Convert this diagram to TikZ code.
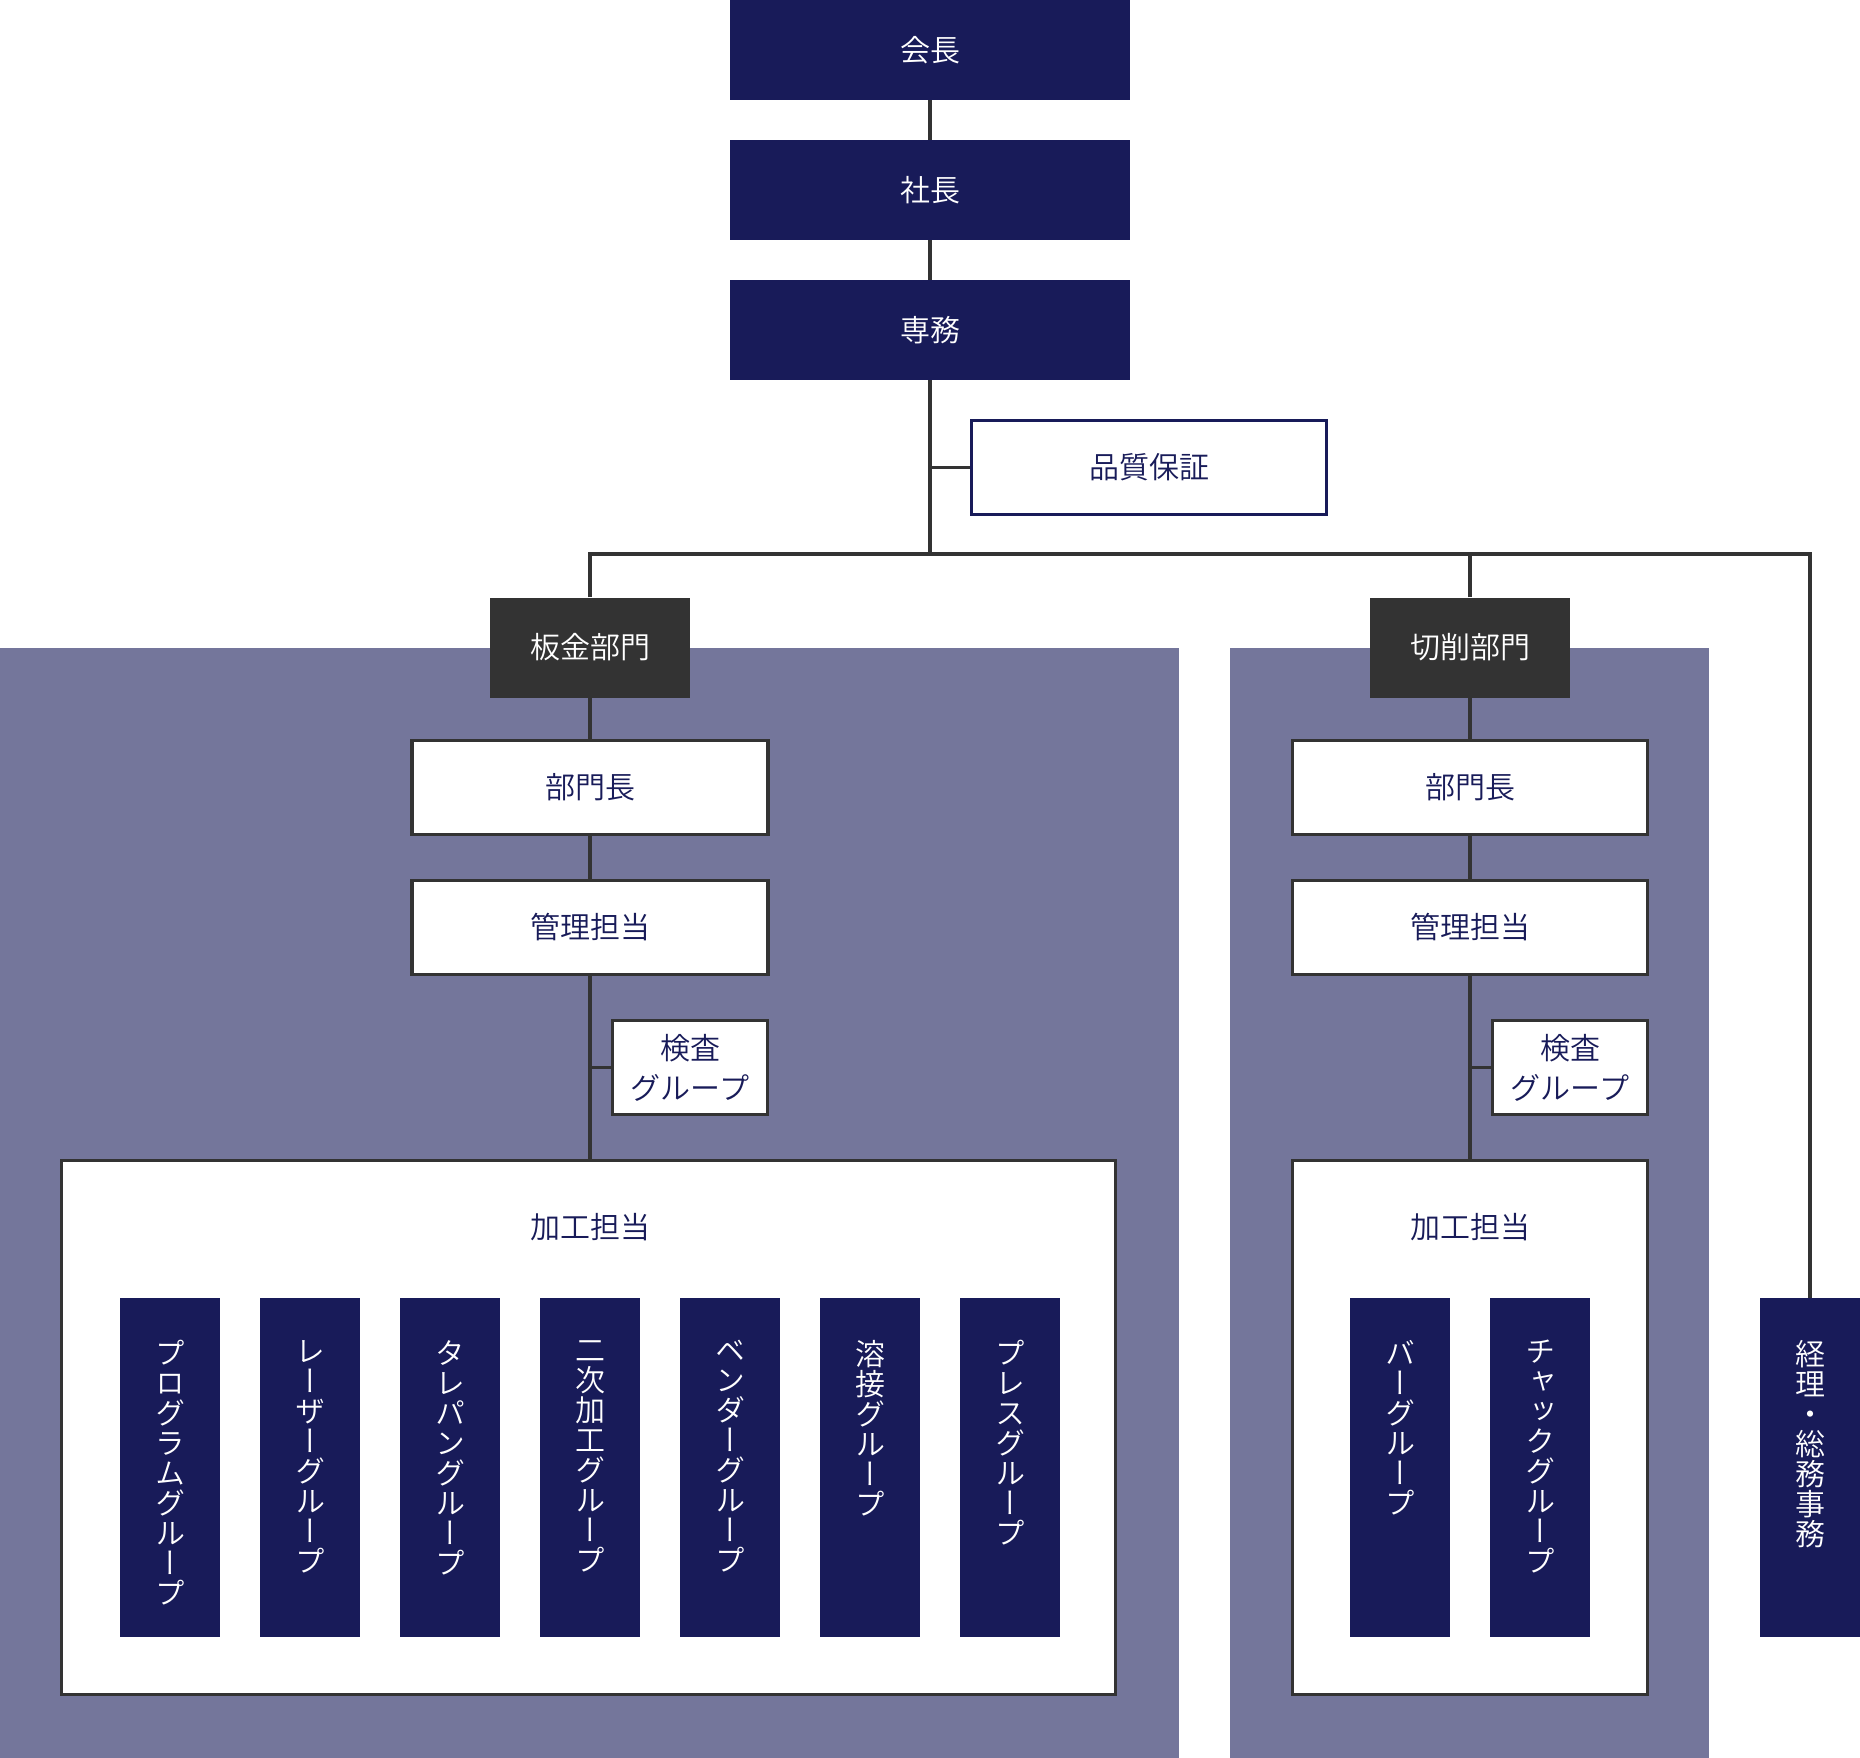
\documentclass[tikz,border=0pt]{standalone}
\usepackage{fontspec}
\setmainfont{Noto Sans CJK JP DemiLight}
\newfontfamily\vjp[RawFeature=+vert]{Noto Sans CJK JP DemiLight}
\definecolor{navy}{RGB}{24,27,89}
\definecolor{panelc}{RGB}{116,118,155}
\definecolor{dgray}{RGB}{51,51,51}
\definecolor{linec}{RGB}{51,51,51}
\begin{document}
\begin{tikzpicture}[x=1pt,y=-1pt,
  lbl/.style={font=\fontsize{30}{40}\selectfont},
  topbox/.style={lbl, fill=navy, text=white, minimum width=400pt, minimum height=100pt, inner sep=0pt},
  deptbox/.style={lbl, fill=dgray, text=white, minimum width=200pt, minimum height=100pt, inner sep=0pt},
  wbox/.style={lbl, draw=linec, fill=white, text=navy, line width=3.4pt, inner sep=0pt, align=center},
  colbox/.style={fill=navy, minimum width=100pt, minimum height=339pt, inner sep=0pt},
  vtxt/.style={text=white, font={\vjp\fontsize{30}{30}\selectfont\lineskiplimit=-30pt}, align=center, text width=40pt, inner sep=0pt, anchor=north},
  conn/.style={draw=linec, line width=3.4pt}
]
\useasboundingbox (0,0) rectangle (1860,1758);
\fill[white] (0,0) rectangle (1860,1758);
% panels
\fill[panelc] (0,648) rectangle (1179,1758);
\fill[panelc] (1230,648) rectangle (1709,1758);

% top chain
\node[topbox] (kaicho) at (930,50) {会長};
\node[topbox] (shacho) at (930,190) {社長};
\node[topbox] (senmu) at (930,330) {専務};
\node[wbox, draw=navy, minimum width=355pt, minimum height=94pt] (hinshitsu) at (1149,467.5) {品質保証};

% departments
\node[deptbox] (bankin) at (590,647.5) {板金部門};
\node[deptbox] (sessaku) at (1470,647.5) {切削部門};

% left department
\node[wbox, minimum width=356pt, minimum height=94pt] (Lbucho) at (590,787.5) {部門長};
\node[wbox, minimum width=356pt, minimum height=94pt] (Lkanri) at (590,927.5) {管理担当};
\node[wbox, minimum width=155pt, minimum height=94pt, font=\fontsize{30}{40}\selectfont] (Lkensa) at (690,1067.5) {検査\\グループ};
\node[wbox, minimum width=1054pt, minimum height=534pt] (Lkako) at (588.5,1427.5) {};
\node[lbl, text=navy, inner sep=0pt] (Lkakolbl) at (590,1227) {加工担当};

% right department
\node[wbox, minimum width=355pt, minimum height=94pt] (Rbucho) at (1470,787.5) {部門長};
\node[wbox, minimum width=355pt, minimum height=94pt] (Rkanri) at (1470,927.5) {管理担当};
\node[wbox, minimum width=155pt, minimum height=94pt, font=\fontsize{30}{40}\selectfont] (Rkensa) at (1570,1067.5) {検査\\グループ};
\node[wbox, minimum width=355pt, minimum height=534pt] (Rkako) at (1470,1427.5) {};
\node[lbl, text=navy, inner sep=0pt] (Rkakolbl) at (1470,1227) {加工担当};

% left columns
\node[colbox] (c1) at (170,1467.5) {};
\node[colbox] (c2) at (310,1467.5) {};
\node[colbox] (c3) at (450,1467.5) {};
\node[colbox] (c4) at (590,1467.5) {};
\node[colbox] (c5) at (730,1467.5) {};
\node[colbox] (c6) at (870,1467.5) {};
\node[colbox] (c7) at (1010,1467.5) {};
\node[vtxt] (t1) at (170,1340) {プ\\ロ\\グ\\ラ\\ム\\グ\\ル\\ー\\プ};
\node[vtxt] (t2) at (310,1340) {レ\\ー\\ザ\\ー\\グ\\ル\\ー\\プ};
\node[vtxt] (t3) at (450,1340) {タ\\レ\\パ\\ン\\グ\\ル\\ー\\プ};
\node[vtxt] (t4) at (590,1340) {二\\次\\加\\工\\グ\\ル\\ー\\プ};
\node[vtxt] (t5) at (730,1340) {ベ\\ン\\ダ\\ー\\グ\\ル\\ー\\プ};
\node[vtxt] (t6) at (870,1340) {溶\\接\\グ\\ル\\ー\\プ};
\node[vtxt] (t7) at (1010,1340) {プ\\レ\\ス\\グ\\ル\\ー\\プ};

% right columns
\node[colbox] (c8) at (1400,1467.5) {};
\node[colbox] (c9) at (1540,1467.5) {};
\node[vtxt] (t8) at (1400,1340) {バ\\ー\\グ\\ル\\ー\\プ};
\node[vtxt] (t9) at (1540,1340) {チ\\ャ\\ッ\\ク\\グ\\ル\\ー\\プ};

% keiri
\node[colbox] (keiri) at (1810,1467.5) {};
\node[vtxt] (t10) at (1810,1340) {経\\理\\・\\総\\務\\事\\務};

% connectors
\coordinate (hbar) at (0,554);
\draw[conn] (kaicho.south) -- (shacho.north);
\draw[conn] (shacho.south) -- (senmu.north);
\draw[conn] (senmu.south) -- (senmu.south |- hbar);
\draw[conn] (senmu.south |- hinshitsu.west) -- (hinshitsu.west);
\draw[conn] (bankin.north) -- (bankin.north |- hbar) -- (keiri.north |- hbar) -- (keiri.north);
\draw[conn] (sessaku.north) -- (sessaku.north |- hbar);

\draw[conn] (bankin.south) -- (Lbucho.north);
\draw[conn] (Lbucho.south) -- (Lkanri.north);
\draw[conn] (Lkanri.south) -- (Lkanri.south |- Lkako.north);
\draw[conn] (Lkanri.south |- Lkensa.west) -- (Lkensa.west);

\draw[conn] (sessaku.south) -- (Rbucho.north);
\draw[conn] (Rbucho.south) -- (Rkanri.north);
\draw[conn] (Rkanri.south) -- (Rkako.north);
\draw[conn] (Rkanri.south |- Rkensa.west) -- (Rkensa.west);
\end{tikzpicture}
\end{document}
